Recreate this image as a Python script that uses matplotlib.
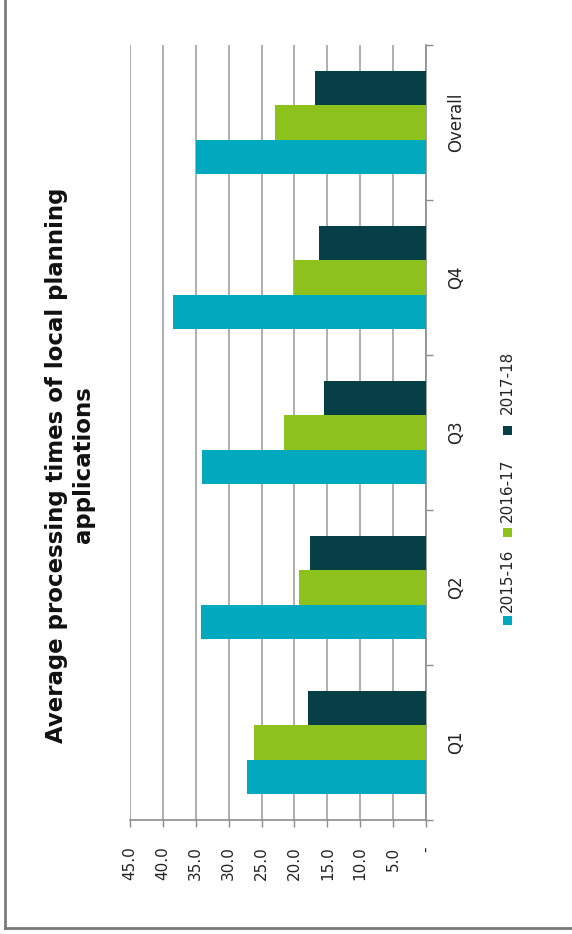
import numpy as np
import matplotlib
matplotlib.use("Agg")
import matplotlib.pyplot as plt
from matplotlib.lines import Line2D
from matplotlib.patches import Rectangle

# Average processing time (days) by quarter
categories = ["Q1", "Q2", "Q3", "Q4", "Overall"]
series_names = ["2015-16", "2016-17", "2017-18"]
fy2015_16 = [27.2, 34.2, 34.1, 38.4, 34.9]
fy2016_17 = [26.1, 19.3, 21.6, 20.0, 22.9]
fy2017_18 = [18.0, 17.7, 15.5, 16.2, 16.9]
value_ticks = [0, 5, 10, 15, 20, 25, 30, 35, 40, 45]
value_tick_labels = ["-", "5.0", "10.0", "15.0", "20.0", "25.0", "30.0", "35.0", "40.0", "45.0"]

colors = ["#00A9BE", "#8DC21C", "#063F46"]
grid_color = "#A8A8A8"
axis_color = "#8C8C8C"

W, H = 572, 934
fig = plt.figure(figsize=(W / 100, H / 100), dpi=100)
fig.patch.set_facecolor("white")

# Chart is laid out sideways: values run right-to-left, categories bottom-to-top
ax = fig.add_axes([130 / W, 1 - 820 / H, (426 - 130) / W, (820 - 45) / H])
y = np.arange(len(categories))
bw = 0.222
for off, vals, col in zip([-bw, 0, bw], [fy2015_16, fy2016_17, fy2017_18], colors):
    ax.barh(y + off, vals, height=bw, color=col, edgecolor="none", zorder=3)

ax.set_xlim(45, 0)
ax.set_ylim(-0.5, len(categories) - 0.5)

ax.set_xticks(value_ticks)
ax.set_xticklabels(value_tick_labels, rotation=90, fontsize=11, color="#222222")
ax.tick_params(axis="x", direction="out", length=5, width=1, color=axis_color, pad=14)
ax.xaxis.grid(True, color=grid_color, linewidth=1.3, zorder=0)
ax.set_axisbelow(True)

ax.yaxis.tick_right()
ax.set_yticks(y)
ax.set_yticklabels(categories, rotation=90, va="center", ha="left",
                   fontsize=12, color="#222222")
ax.set_yticks(np.arange(-0.5, len(categories), 1), minor=True)
ax.tick_params(axis="y", which="major", length=0, pad=15)
ax.tick_params(axis="y", which="minor", direction="out", length=5, width=1, color=axis_color)

for side in ["left", "top"]:
    ax.spines[side].set_visible(False)
for side in ["right", "bottom"]:
    ax.spines[side].set_color(axis_color)
    ax.spines[side].set_linewidth(1.2)

# Title, rotated
fig.text(70 / W, 1 - 465 / H,
         "Average processing times of local planning\napplications",
         rotation=90, ha="center", va="center", multialignment="center",
         fontsize=16.5, fontweight="bold", color="#111111", linespacing=1.2)

# Legend, drawn sideways to follow the chart
sq = 9
entries = [(620, 580), (532, 490), (430, 382)]  # (square centre, text centre) in px from top
for (sq_y, txt_y), name, col in zip(entries, series_names, colors):
    fig.add_artist(Rectangle(((507 - sq / 2) / W, 1 - (sq_y + sq / 2) / H), sq / W, sq / H,
                             transform=fig.transFigure, facecolor=col, edgecolor="none"))
    fig.text(507 / W, 1 - txt_y / H, name, rotation=90, ha="center", va="center",
             fontsize=11, color="#222222")

# Outer frame
fig.add_artist(Line2D([4.5 / W, 4.5 / W], [1 - 928 / H, 1], transform=fig.transFigure,
                      color="#7A7A7A", linewidth=2))
fig.add_artist(Line2D([4.5 / W, 1], [1 - 928 / H, 1 - 928 / H], transform=fig.transFigure,
                      color="#7A7A7A", linewidth=2))

fig.savefig("out.png", dpi=100)
